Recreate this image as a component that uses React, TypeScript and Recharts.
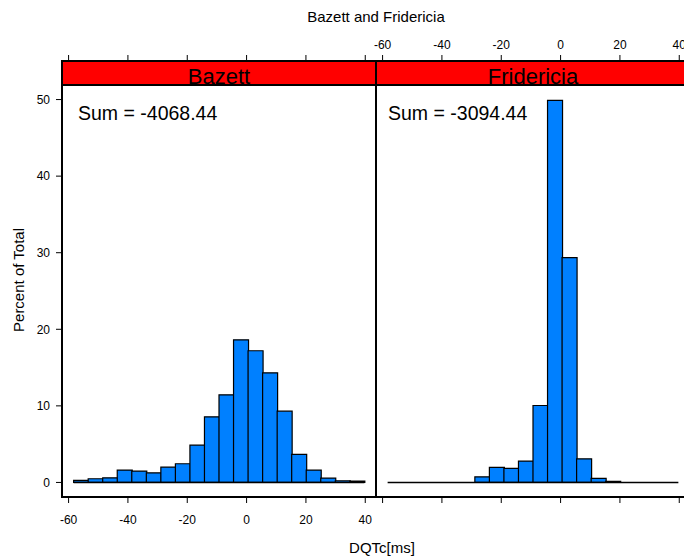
import React from 'react';
import { BarChart, Bar, XAxis, YAxis, ReferenceLine } from 'recharts';

// histogram breaks (ms), shared by both panels
const BREAKS = [
  -58.3, -53.4, -48.5, -43.6, -38.7, -33.8, -28.9, -24.0, -19.1, -14.2, -9.3,
  -4.4, 0.5, 5.4, 10.3, 15.2, 20.1, 25.0, 29.9, 34.8, 39.7,
];

// percent of total in each bin
const BAZETT_PCT = [
  0.26, 0.48, 0.61, 1.61, 1.48, 1.26, 2.0, 2.44, 4.87, 8.57, 11.44, 18.62, 17.2, 14.32, 9.31, 3.66,
  1.61, 0.57, 0.22, 0.17,
];
const FRIDERICIA_PCT = [
  0, 0, 0, 0, 0, 0, 0.74, 1.96, 1.83, 2.79, 10.05, 49.9, 29.35, 3.09, 0.52, 0.13, 0, 0, 0, 0,
];

const PANEL_NAMES = ['Bazett', 'Fridericia'];
const PANEL_SUMS = ['-4068.44', '-3094.44'];

const X_TICKS = [-60, -40, -20, 0, 20, 40];
const Y_TICKS = [0, 10, 20, 30, 40, 50];
const X_DOMAIN: [number, number] = [-62.22, 43.62];
const Y_DOMAIN: [number, number] = [-1.9, 51.9];

const FONT = '"Liberation Sans", Arial, Helvetica, sans-serif';
const BAR_FILL = '#0080FF';

// tick marks without a label
const NoLabel = () => <g />;

interface PanelProps {
  values: number[];
  width: number;
  marginLeft: number;
  showY?: boolean;
  topLabels?: boolean;
}

function HistPanel({ values, width, marginLeft, showY, topLabels }: PanelProps) {
  const rows = values.map((pct, i) => ({ mid: (BREAKS[i] + BREAKS[i + 1]) / 2, pct }));
  const tickText = { fill: '#000', fontSize: 12 };

  return (
    <BarChart
      width={width}
      height={557}
      data={rows}
      margin={{ top: 0, right: 4, bottom: 0, left: marginLeft }}
      barCategoryGap={0}
      barGap={0}
    >
      <XAxis
        xAxisId="top"
        dataKey="mid"
        orientation="top"
        type="number"
        domain={X_DOMAIN}
        ticks={X_TICKS}
        interval={0}
        allowDataOverflow
        height={85}
        tickSize={30}
        tickMargin={6}
        axisLine={false}
        tickLine={{ stroke: '#000' }}
        tick={topLabels ? tickText : NoLabel}
      />
      <XAxis
        dataKey="mid"
        type="number"
        domain={X_DOMAIN}
        ticks={X_TICKS}
        interval={0}
        allowDataOverflow
        height={60}
        tickSize={6}
        tickMargin={12}
        axisLine={false}
        tickLine={{ stroke: '#000' }}
        tick={topLabels ? NoLabel : tickText}
      />
      <YAxis
        type="number"
        domain={Y_DOMAIN}
        ticks={Y_TICKS}
        interval={0}
        allowDataOverflow
        width={62}
        hide={!showY}
        tickSize={6}
        tickMargin={6}
        axisLine={false}
        tickLine={{ stroke: '#000' }}
        tick={tickText}
      />
      <Bar dataKey="pct" fill={BAR_FILL} stroke="#000" strokeWidth={1.2} isAnimationActive={false} />
      {/* empty bins still leave their outline on the baseline */}
      <ReferenceLine
        segment={[
          { x: BREAKS[0], y: 0 },
          { x: BREAKS[BREAKS.length - 1], y: 0 },
        ]}
        stroke="#000"
        strokeWidth={1.6}
      />
    </BarChart>
  );
}

export default function App() {
  return (
    <div
      style={{
        position: 'absolute',
        left: 0,
        top: 0,
        width: 684,
        height: 557,
        overflow: 'hidden',
        background: '#fff',
        fontFamily: FONT,
        color: '#000',
      }}
    >
      <div style={{ position: 'absolute', left: 0, top: 0 }}>
        <HistPanel values={BAZETT_PCT} width={380} marginLeft={0} showY />
      </div>
      <div style={{ position: 'absolute', left: 356, top: 0 }}>
        <HistPanel values={FRIDERICIA_PCT} width={338} marginLeft={20} topLabels />
      </div>

      {PANEL_NAMES.map((name, i) => (
        <React.Fragment key={name}>
          {/* panel frame */}
          <div
            style={{
              position: 'absolute',
              left: 61 + i * 314,
              top: 84,
              width: 316,
              height: 414,
              border: '2px solid #000',
              boxSizing: 'border-box',
            }}
          />
          {/* strip */}
          <div
            style={{
              position: 'absolute',
              left: 61 + i * 314,
              top: 60,
              width: 316,
              height: 26,
              border: '2px solid #000',
              boxSizing: 'border-box',
              background: '#FF0000',
              overflow: 'hidden',
            }}
          >
            <div
              style={{
                position: 'absolute',
                left: 0,
                right: 0,
                top: 4,
                textAlign: 'center',
                fontSize: 22,
                lineHeight: '22px',
              }}
            >
              {name}
            </div>
          </div>
        </React.Fragment>
      ))}

      <svg
        width={684}
        height={557}
        style={{ position: 'absolute', left: 0, top: 0, pointerEvents: 'none' }}
      >
        <text x={376} y={22} textAnchor="middle" fontSize={15} fill="#000">
          Bazett and Fridericia
        </text>
        <text x={382} y={553} textAnchor="middle" fontSize={15} fill="#000">
          DQTc[ms]
        </text>
        <text
          x={24}
          y={280}
          textAnchor="middle"
          fontSize={15}
          fill="#000"
          transform="rotate(-90 24 280)"
        >
          Percent of Total
        </text>
        {PANEL_SUMS.map((s, i) => (
          <text key={s} x={78 + i * 310} y={120} fontSize={19.5} fill="#000">
            {`Sum = ${s}`}
          </text>
        ))}
      </svg>
    </div>
  );
}
